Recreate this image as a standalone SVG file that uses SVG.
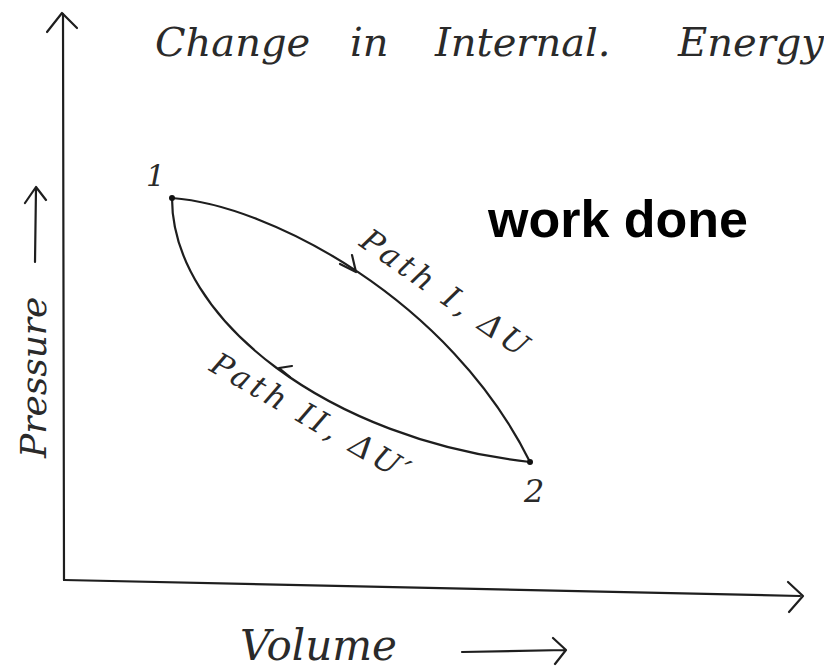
<svg xmlns="http://www.w3.org/2000/svg" width="824" height="671" viewBox="0 0 824 671">
<style>
.ink{fill:none;stroke:#1e1e1e;stroke-width:2.2;stroke-linecap:round;stroke-linejoin:round}
.hand{font-family:"DejaVu Serif","Liberation Serif",serif;font-style:italic;fill:#2a2a2a}
.bold{font-family:"Liberation Sans",Arial,sans-serif;font-weight:bold;fill:#000}
</style>
<rect width="824" height="671" fill="#ffffff"/>
<g id="axes">
<path class="ink" d="M63,14 L64,580"/>
<path class="ink" d="M47,32 L62,13 L77,28"/>
<path class="ink" d="M64,580 L800,596"/>
<path class="ink" d="M788,582 L803,596 L789,612"/>
</g>
<g id="title">
<text class="hand" x="155" y="56" font-size="40">Change</text>
<text class="hand" x="350" y="56" font-size="40">in</text>
<text class="hand" x="435" y="56" font-size="40">Internal.</text>
<text class="hand" x="678" y="56" font-size="40">Energy</text>
</g>
<g id="y-label">
<text class="hand" font-size="36" transform="translate(46,458) rotate(-90)">Pressure</text>
<path class="ink" d="M35,262 L36,188 M25,203 L36,187 L46,200"/>
</g>
<g id="x-label">
<text class="hand" x="240" y="660" font-size="42">Volume</text>
<path class="ink" d="M462,652 L565,650 M553,638 L566,650 L555,664"/>
</g>
<g id="connectors">
<path id="path1" class="ink" d="M172,198 C270,205 450,300 530,462"/>
<path class="ink" d="M340,264 L356,272 L352,255"/>
<path id="path2" class="ink" d="M172,198 C172,320 330,440 530,462"/>
<path class="ink" d="M290,377 L279,368 L292,366"/>
</g>
<g id="node1">
<circle cx="172" cy="198" r="3" fill="#111"/>
<text class="hand" x="146" y="186" font-size="30">1</text>
</g>
<g id="node2">
<circle cx="530" cy="462" r="3" fill="#111"/>
<text class="hand" x="524" y="502" font-size="32">2</text>
</g>
<g id="labels">
<text class="hand" font-size="31" letter-spacing="4" transform="translate(358,245) rotate(35)">Path I, ΔU</text>
<text class="hand" font-size="31" letter-spacing="4" transform="translate(208,370) rotate(30)">Path II, ΔU′</text>
<text class="bold" x="488" y="237" font-size="52">work done</text>
</g>
</svg>
